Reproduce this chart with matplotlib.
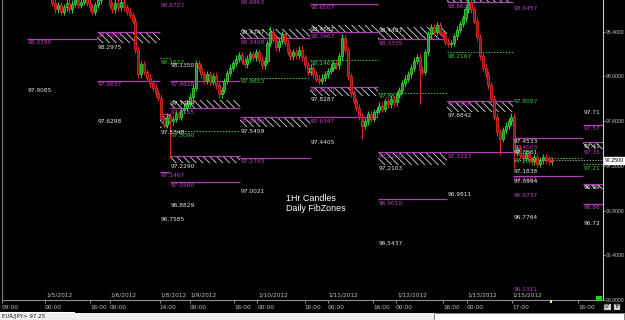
import matplotlib
matplotlib.use("Agg")
import matplotlib.pyplot as plt
from matplotlib.patches import Rectangle
import matplotlib.transforms as mtransforms

# ---------------- data ----------------
closes = [98.82, 98.85, 98.80, 98.84, 98.88, 98.86, 98.90, 98.87, 98.83, 98.86, 98.89, 98.85, 98.82, 98.80, 98.84, 98.81, 98.78,
          98.66, 98.60, 98.64, 98.58, 98.62, 98.66, 98.60,
          98.65, 98.68, 98.64, 98.67, 98.70, 98.66, 98.62,
          98.58, 98.64, 98.68, 98.74, 98.78, 98.72,
          98.64, 98.60, 98.66, 98.62, 98.67,
          98.62, 98.58, 98.55, 98.50,
          98.24, 98.02, 98.11, 98.04, 97.99, 97.94, 97.90, 97.85, 97.81,
          97.62, 97.57, 97.64, 97.60,
          97.62, 97.66, 97.64, 97.70, 97.72, 97.76, 97.82, 97.90,
          98.12, 98.08, 98.02, 97.96, 98.02, 97.95, 98.00, 97.92, 97.84,
          97.88, 97.96, 98.03, 98.08, 98.12, 98.16, 98.19, 98.14, 98.11, 98.16, 98.20, 98.17, 98.22, 98.15, 98.10, 98.14,
          98.30, 98.40, 98.33, 98.26, 98.32, 98.38, 98.30, 98.22, 98.18, 98.22, 98.19, 98.24, 98.17, 98.10, 98.04, 98.08,
          98.02, 97.98, 97.96, 97.99, 98.02, 98.05, 98.08, 98.12, 98.10, 98.18,
          98.34, 98.24, 98.00, 97.85, 97.78, 97.72, 97.64, 97.56,
          97.60, 97.66, 97.62, 97.68, 97.70, 97.74, 97.71, 97.78, 97.75, 97.80, 97.77, 97.84, 97.88, 97.94,
          97.98, 98.02, 98.08, 98.14, 98.17, 98.06, 98.04, 98.22, 98.38, 98.44, 98.40, 98.46, 98.40, 98.37, 98.31,
          98.29, 98.30, 98.36, 98.42, 98.47, 98.52, 98.60, 98.67,
          98.60, 98.50, 98.35, 98.18, 98.08, 98.02, 97.92, 97.80, 97.64, 97.50, 97.44, 97.52, 97.56, 97.60, 97.64, 97.32,
          97.36, 97.30, 97.27, 97.31, 97.26, 97.24, 97.28, 97.22, 97.25, 97.28, 97.26, 97.24, 97.25]
first_open = 98.80
wick = 0.03
low_override = {58: 97.28, 125: 97.44, 145: 97.75, 173: 97.30, 178: 97.18}
high_override = {93: 98.45, 118: 98.38, 162: 98.70}

time_ticks = [0, 15, 30.7, 37.6, 55, 65.5, 81, 89, 105.5, 113.5, 129.3, 137.3, 153.7, 162, 177.7, 200.7]
time_labels = ["09:00", "00:00", "16:00", "00:00", "14:00", "00:00", "16:00", "00:00", "16:00", "00:00",
               "16:00", "00:00", "16:00", "00:00", "17:00", "16:00"]
date_ticks = [15, 37.6, 55, 65.5, 89, 113.5, 137.3, 162, 177.7]
date_labels = ["1/5/2012", "1/6/2012", "1/8/2012", "1/9/2012", "1/10/2012", "1/11/2012", "1/12/2012",
               "1/13/2012", "1/15/2012"]
price_ticks = [96.0, 96.4, 96.8, 97.2, 97.6, 98.0, 98.4]
last_price = 97.25

# zone segments (start, end) in bar units
seg = {0: (8.7, 33.1), 1: (33.1, 55.1), 2: (55.1, 58.5), 3: (58.5, 82.9), 4: (82.9, 107.3),
       5: (107.3, 131.0), 6: (131.0, 155.0), 7: (155.0, 178.0), 8: (178.0, 202.4), 9: (202.4, 209.4)}
# solid magenta lines: (segment, price)
mag_lines = [(0, 98.3390), (1, 97.9637), (2, 97.1467), (3, 97.9628), (3, 97.0560), (4, 97.2743),
             (5, 98.6507), (5, 97.6347), (6, 96.9010), (7, 97.3227), (8, 97.4533), (8, 97.1101),
             (9, 97.5700), (9, 96.8600)]
# dashed green lines
green_lines = [(2, 98.1627), (3, 97.5090), (4, 97.9853), (5, 98.1467), (6, 97.8538), (7, 98.2167),
               (8, 97.2737), (9, 97.2150)]
# hatched zones: (segment, low, high, magenta edge)
hatches = [(1, 98.2975, 98.4000, "top"), (2, 97.5348, 97.6600, "top"), (3, 97.7165, 97.7904, "bottom"),
           (3, 97.2290, 97.2900, "top"), (4, 98.3408, 98.4247, "bottom"), (4, 97.5459, 97.6350, "top"),
           (5, 98.3967, 98.4562, "bottom"), (5, 97.8287, 97.9100, "top"), (6, 98.3335, 98.4427, "bottom"),
           (6, 97.2103, 97.3200, "top"), (7, 98.6631, 98.7200, "bottom"), (7, 97.6842, 97.7800, "top"),
           (9, 97.3500, 97.4100, "top"), (9, 96.9900, 97.0400, "top")]
# price labels: (segment, price, text, colour key)
labels = [(0, 98.3390, "98.3390", "m"), (0, 97.9085, "97.9085", "w"),
          (1, 98.4000, "98.3990", "m"), (1, 98.2975, "98.2975", "w"), (1, 97.9637, "97.9637", "m"),
          (1, 97.6298, "97.6298", "w"),
          (2, 98.6707, "98.6707", "m"), (2, 98.1627, "98.1627", "g"), (2, 97.5348, "97.5348", "w"),
          (2, 97.1467, "97.1467", "m"), (2, 96.7585, "96.7585", "w"),
          (3, 98.1350, "98.1350", "w"), (3, 97.9628, "97.9628", "m"), (3, 97.7904, "97.7904", "w"),
          (3, 97.7165, "97.7165", "m"), (3, 97.5090, "97.5090", "g"), (3, 97.2290, "97.2290", "w"),
          (3, 97.0560, "97.0560", "m"), (3, 96.8829, "96.8829", "w"),
          (4, 98.6963, "98.6963", "m"), (4, 98.4247, "98.4247", "w"), (4, 98.3408, "98.3408", "m"),
          (4, 97.9853, "97.9853", "g"), (4, 97.6350, "97.6350", "m"), (4, 97.5459, "97.5459", "w"),
          (4, 97.2743, "97.2743", "m"), (4, 97.0021, "97.0021", "w"),
          (5, 98.6507, "98.6507", "m"), (5, 98.4562, "98.4562", "w"), (5, 98.3967, "98.3967", "m"),
          (5, 98.1467, "98.1467", "g"), (5, 97.9100, "97.9100", "m"), (5, 97.8287, "97.8287", "w"),
          (5, 97.6347, "97.6347", "m"), (5, 97.4405, "97.4405", "w"),
          (6, 98.4427, "98.4427", "w"), (6, 98.3335, "98.3335", "m"), (6, 97.8538, "97.8538", "g"),
          (6, 97.3200, "97.3200", "m"), (6, 97.2103, "97.2103", "w"), (6, 96.9010, "96.9010", "m"),
          (6, 96.5437, "96.5437", "w"),
          (7, 98.6631, "98.6631", "m"), (7, 98.2167, "98.2167", "g"), (7, 97.7800, "97.7800", "m"),
          (7, 97.6842, "97.6842", "w"), (7, 97.3227, "97.3227", "m"), (7, 96.9811, "96.9811", "w"),
          (8, 98.6457, "98.6457", "m"), (8, 97.8097, "97.8097", "g"), (8, 97.4533, "97.4533", "w"),
          (8, 97.4003, "97.4003", "m"), (8, 97.3561, "97.3561", "w"), (8, 97.2737, "97.2737", "g"),
          (8, 97.1838, "97.1838", "w"), (8, 97.1101, "97.1101", "m"), (8, 97.0994, "97.0994", "w"),
          (8, 96.9737, "96.9737", "m"), (8, 96.7764, "96.7764", "w"), (8, 96.1311, "96.1311", "m"),
          (9, 97.7100, "97.71", "w"), (9, 97.5700, "97.57", "m"), (9, 97.4100, "97.41", "w"),
          (9, 97.3500, "97.35", "m"), (9, 97.2150, "97.21", "g"), (9, 97.0400, "96.99", "w"),
          (9, 96.8600, "96.86", "m"), (9, 96.7200, "96.72", "w")]

# ---------------- styles ----------------
W, H = 625, 320
BG = "black"
MAG = "#b43cb4"
MAGT = "#c040c0"
GRN = "#3cc83c"
WHT = "#e6e6e6"
UPC, UPF = "#38d038", "#1f8a1f"
DNC, DNF = "#e02828", "#8a1414"
colmap = {"m": MAGT, "w": WHT, "g": GRN}
plt.rcParams["hatch.linewidth"] = 0.6
plt.rcParams["font.family"] = ["DejaVu Sans"]

fig = plt.figure(figsize=(W / 100, H / 100), dpi=100, facecolor=BG)
ax = fig.add_axes([2 / W, 20 / H, 601 / W, 300 / H], facecolor=BG)
ax.set_xlim(0, 601 / 2.87)
ax.set_ylim(98.684 - 300 / 112.5, 98.684)

def fx(px):
    return px / W

def fy(py):
    return 1 - py / H

# ---- zones ----
for s, lo, hi, edge in hatches:
    t0, t1 = seg[s]
    ax.add_patch(Rectangle((t0, lo), t1 - t0, hi - lo, facecolor="none", edgecolor="#d8d8d8",
                           hatch="\\\\\\\\\\", linewidth=0, zorder=1))
    ax.hlines(hi if edge == "top" else lo, t0, t1, color=MAG, lw=0.9, zorder=2)
for s, p in mag_lines:
    t0, t1 = seg[s]
    ax.hlines(p, t0, t1, color=MAG, lw=0.9, zorder=2)
for s, p in green_lines:
    t0, t1 = seg[s]
    ax.hlines(p, t0, t1, color=GRN, lw=0.7, linestyles=(0, (1.5, 1.5)), zorder=2)
off = mtransforms.offset_copy(ax.transData, fig=fig, x=0.5, y=-1.0, units="points")
for s, p, txt, c in labels:
    ax.text(seg[s][0], p, txt, color=colmap[c], fontsize=4.2, va="top", ha="left",
            transform=off, zorder=5, clip_on=True)

# ---- candles ----
opens = [first_open] + closes[:-1]
for i, (o, c) in enumerate(zip(opens, closes)):
    hi = high_override.get(i, max(o, c) + wick)
    lo = low_override.get(i, min(o, c) - wick)
    up = c >= o
    ec, fc = (UPC, UPF) if up else (DNC, DNF)
    t = i + 0.5
    ax.vlines(t, lo, hi, color=ec, lw=0.7, zorder=3)
    ax.add_patch(Rectangle((t - 0.36, min(o, c)), 0.72, max(abs(c - o), 0.006),
                           facecolor=fc, edgecolor=ec, lw=0.6, zorder=4))

# current price marker line and arrow
ax.hlines(last_price, 178.5, 209.4, color="#cfcfcf", lw=0.5, linestyles=(0, (2, 2)), zorder=2)
ax.annotate("", xy=(188.5, last_price), xytext=(193.5, last_price),
            arrowprops=dict(arrowstyle="->", color="#e02020", lw=0.8), zorder=6)

# chart caption
ax.text(99.0, 96.95, "1Hr Candles\nDaily FibZones", color="white", fontsize=6.4,
        family="Liberation Sans", va="top", ha="left", linespacing=1.15, zorder=6)

# ---- axes styling ----
ax.spines["top"].set_visible(False)
ax.spines["left"].set_color("#808080")
ax.spines["right"].set_color("#c8c8c8")
ax.spines["bottom"].set_color("#909090")
for sp in ax.spines.values():
    sp.set_linewidth(0.8)

ax.yaxis.tick_right()
ax.set_yticks(price_ticks)
ax.set_yticklabels(["%.4f" % v for v in price_ticks], family="Liberation Sans")
ax.tick_params(axis="y", colors="#c8c8c8", labelsize=3.7, length=1.5, width=0.5, pad=0.2)
ax.set_xticks(time_ticks)
ax.set_xticklabels(time_labels, ha="left")
ax.tick_params(axis="x", colors="#c0c0c0", labelsize=4.2, length=2, width=0.5, pad=1.5)

dtrans = mtransforms.blended_transform_factory(ax.transData, ax.transAxes)
for t, d in zip(date_ticks, date_labels):
    ax.text(t + 0.3, 0.008, d, color="#c0c0c0", fontsize=4.2, ha="left", va="bottom",
            transform=dtrans)

# last price box on the right axis
yb = ax.transData.transform((0, last_price))[1]
fig.text(fx(605), yb / H, "97.2500", fontsize=3.8, family="Liberation Sans", color="black",
         va="center", ha="left",
         bbox=dict(boxstyle="square,pad=0.15", facecolor="white", edgecolor="white"))

# green square marker and yellow marker
fig.patches.append(Rectangle((fx(596), fy(301)), 6 / W, 5 / H, transform=fig.transFigure,
                             facecolor="#20d020", edgecolor="none"))
fig.patches.append(Rectangle((fx(550), fy(303)), 2 / W, 3 / H, transform=fig.transFigure,
                             facecolor="#f0f050", edgecolor="none"))

# status bar
fig.patches.append(Rectangle((0, 0), 1, 7.5 / H, transform=fig.transFigure,
                             facecolor="#efefef", edgecolor="none"))
fig.patches.append(Rectangle((fx(434), 0.3 / H), 190 / W, 6.5 / H, transform=fig.transFigure,
                             facecolor="white", edgecolor="#707070", lw=0.6))
fig.patches.append(Rectangle((0, 7.0 / H), 75 / W, 1.2 / H, transform=fig.transFigure,
                             facecolor="#ffffff", edgecolor="none"))
fig.text(fx(2), fy(316.5), "EUR/JPY> 97.25", fontsize=4.0, color="#202020", va="center", ha="left")
fig.text(fx(604), fy(306.5), "57", fontsize=3.6, color="black", va="center", ha="left",
         bbox=dict(boxstyle="square,pad=0.1", facecolor="#d8d8d8", edgecolor="#808080", lw=0.3))
fig.text(fx(614), fy(306.5), "TF", fontsize=3.6, color="black", va="center", ha="left",
         bbox=dict(boxstyle="square,pad=0.1", facecolor="#d8d8d8", edgecolor="#808080", lw=0.3))

fig.savefig("out.png", dpi=100, facecolor=BG)
